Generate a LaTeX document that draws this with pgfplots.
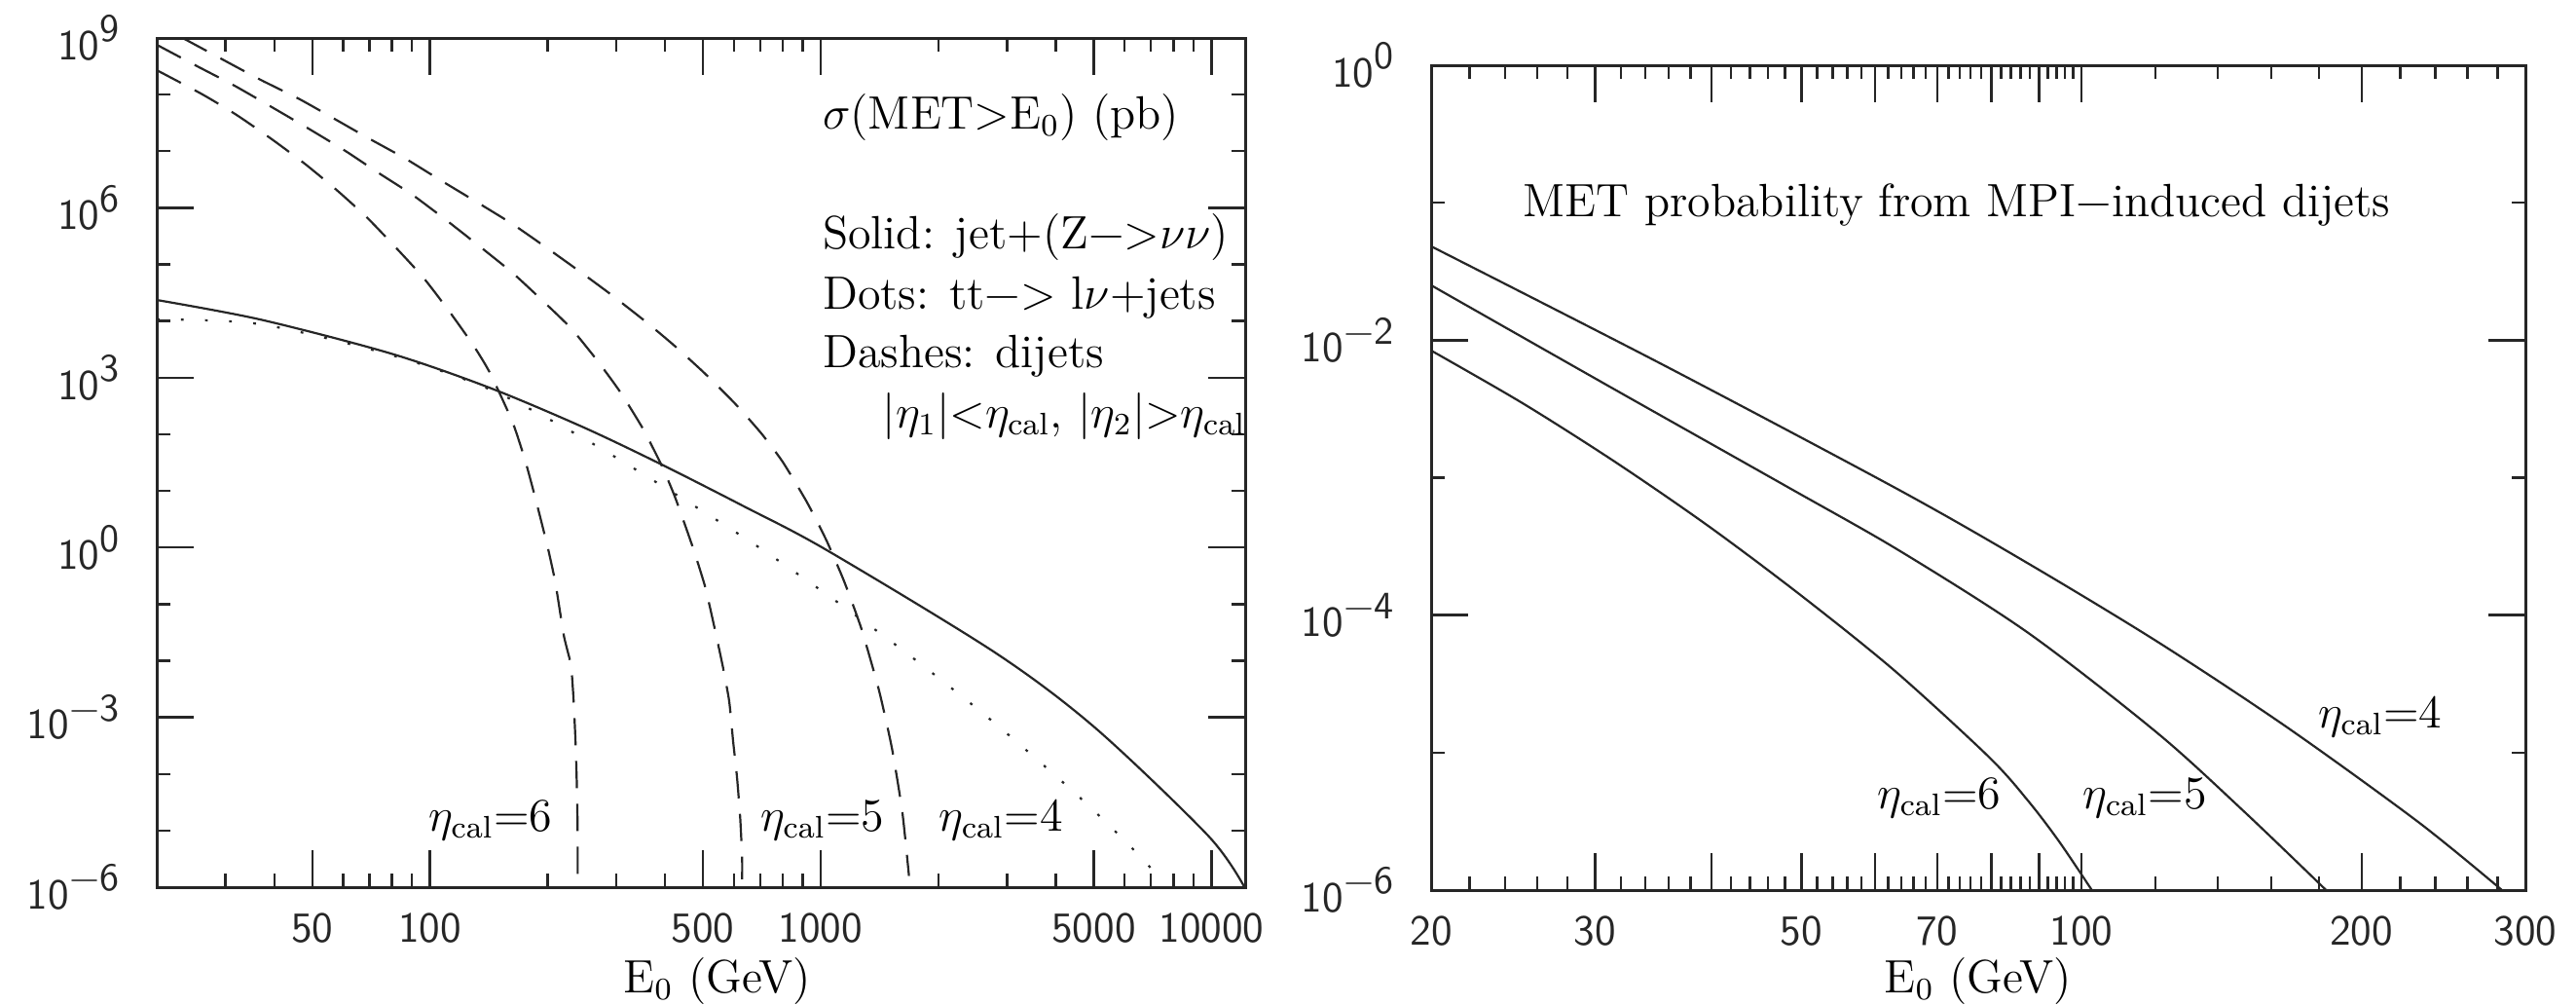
\documentclass[12pt,border=0pt]{standalone}
\usepackage{fontspec}
\usepackage{pgfplots}
\pgfplotsset{compat=1.18}

% tick label like 10^9 in sans
\newcommand{\tlab}[1]{10\raisebox{0.42em}{\fontsize{10}{10}\selectfont #1}}

\pgfplotsset{
  myax/.style={
    scale only axis,
    axis line style={line width=0.75pt, black!85},
    tick style={line width=0.6pt, black!85},
    major tick length=9.5pt, minor tick length=3.4pt,
    tick align=inside,
    tick label style={font=\sffamily\fontsize{11}{11}\selectfont, text=black!85},
    xticklabel style={yshift=-2.5pt},
    yticklabel style={xshift=-5.5pt},
    clip=false,
  },
  curve/.style={black!85, line width=0.55pt},
  dashes/.style={curve, dash pattern=on 7pt off 4pt},
  dots/.style={curve, dash pattern=on 0.7pt off 5.5pt},
}

\begin{document}
\begin{tikzpicture}
\path[use as bounding box] (0,0) rectangle (661.5pt,257.75pt);

% left: cross sections
\begin{loglogaxis}[myax,
  at={(40.25pt,30pt)}, anchor=south west,
  width=279.5pt, height=218pt,
  xmin=20, xmax=12200, ymin=1e-6, ymax=1e9,
  xtick={50,100,500,1000,5000,10000},
  xticklabels={50,100,500,1000,5000,10000},
  minor xtick={30,40,60,70,80,90,200,300,400,600,700,800,900,2000,3000,4000,6000,7000,8000,9000},
  ytick={1e-6,1e-3,1,1e3,1e6,1e9},
  yticklabels={\tlab{−6},\tlab{−3},\tlab{0},\tlab{3},\tlab{6},\tlab{9}},
  minor ytick={1e-5,1e-4,1e-2,1e-1,10,100,1e4,1e5,1e7,1e8},
]
% solid: jet + (Z -> nu nu)
\addplot[curve, smooth, tension=0.5] coordinates {
(20,2.355e4) (36.9,1.06e4) (79.6,2.66e3) (142.6,658) (247,133) (391,29.4)
(635,5.37) (1035,0.904) (2805,1.37e-2) (5058,6.40e-4) (9840,7.93e-6) (12150,1e-6)};
% dots: tt -> l nu + jets
\addplot[dots, smooth, tension=0.5] coordinates {
(20,1.07e4) (36.9,8.77e3) (79.6,2.51e3) (142.6,617) (247,85.1) (433.5,8.04)
(688.7,1.05) (1089,0.116) (1722,1.12e-2) (2742,8.71e-4) (4436,4.85e-5)
(6039,6.34e-6) (7261,1.65e-6)};
% dashes: dijets, eta_cal = 6
\addplot[dashes, smooth, tension=0.35] coordinates {
(20,2.70e8) (26.2,1.005e8) (32.0,4.38e7) (39.4,1.63e7) (47.8,6.04e6) (57.7,2.07e6)
(68.9,6.84e5) (81.3,2.08e5) (96.2,5.86e4) (112.2,1.47e4) (129.4,3.66e3) (142.6,1.20e3)
(162.6,167) (175.4,34.2) (186.6,7.01) (200,1.047) (209.4,0.242) (220.3,2.74e-2)
(229.6,8.34e-3) (233.3,1.93e-3) (236.0,3.37e-4) (237.7,6.64e-5) (238.8,1.16e-5) (238.9,1.58e-6)};
% eta_cal = 5
\addplot[dashes, smooth, tension=0.35] coordinates {
(20,7.59e8) (25.1,3.30e8) (31.6,1.44e8) (39.4,6.01e7) (48.9,2.51e7) (60.8,1.01e7)
(73.5,4.23e6) (90.2,1.70e6) (110.9,5.83e5) (136.1,1.92e5) (162.6,7.14e4) (192.3,2.45e4)
(229.6,7.48e3) (267.9,2.02e3) (307.6,547) (350.8,126) (390.8,29.2) (423.6,7.89)
(469.9,1.047) (505.8,0.207) (533.3,4.24e-2) (561.0,8.34e-3) (583.4,1.93e-3)
(597.0,3.80e-4) (610.9,8.77e-5) (622.3,1.73e-5) (629.5,3.40e-6) (629.6,1.38e-6)};
% eta_cal = 4
\addplot[dashes, smooth, tension=0.35] coordinates {
(23.3,1e9) (30.1,3.86e8) (36.9,1.82e8) (46.5,8.24e7) (57.0,3.73e7) (69.7,1.69e7)
(86.7,7.36e6) (106.4,3.08e6) (132.4,1.24e6) (162.6,5.18e5) (200,1.92e5) (244.3,7.14e4)
(291.7,2.89e4) (358.9,9.44e3) (423.6,3.61e3) (505.8,1.18e3) (603.9,348) (704.7,104)
(799.8,32.5) (922.6,6.30) (1035,1.33) (1148,0.254) (1271,3.70e-2) (1409,3.08e-3)
(1521,2.92e-4) (1618,2.14e-5) (1683,1.58e-6)};

\node[anchor=base west] at (rel axis cs:0.597,0.893) {$\sigma$(MET>E$_0$) (pb)};
\node[anchor=base west] at (rel axis cs:0.597,0.752) {Solid: jet+(Z−>$\nu\nu$)};
\node[anchor=base west] at (rel axis cs:0.597,0.681) {Dots: tt−> l$\nu$+jets};
\node[anchor=base west] at (rel axis cs:0.597,0.612) {Dashes: dijets};
\node[anchor=west] at (rel axis cs:0.652,0.555)
  {$|\eta_1|{<}\eta_{\mathrm{cal}}$, $|\eta_2|{>}\eta_{\mathrm{cal}}$};
\node[anchor=base west] at (rel axis cs:0.235,0.0665) {$\eta_{\mathrm{cal}}{=}6$};
\node[anchor=base west] at (rel axis cs:0.540,0.0665) {$\eta_{\mathrm{cal}}{=}5$};
\node[anchor=base west] at (rel axis cs:0.704,0.0665) {$\eta_{\mathrm{cal}}{=}4$};
\node[anchor=base, yshift=-27pt] at (rel axis cs:0.515,0) {E$_0$ (GeV)};
\end{loglogaxis}

% right: MET probability
\begin{loglogaxis}[myax,
  at={(367.5pt,29.25pt)}, anchor=south west,
  width=281pt, height=211.75pt,
  xmin=20, xmax=300, ymin=1e-6, ymax=1,
  xtick={20,30,40,50,60,70,80,90,100,200,300},
  xticklabels={20,30,,50,,70,,,100,200,300},
  minor xtick={22,24,26,28,32,34,36,38,42,44,46,48,52,54,56,58,62,64,66,68,72,74,76,78,
    82,84,86,88,92,94,96,98,120,140,160,180,220,240,260,280},
  ytick={1e-6,1e-4,1e-2,1},
  yticklabels={\tlab{−6},\tlab{−4},\tlab{−2},\tlab{0}},
  minor ytick={1e-5,1e-3,1e-1},
]
% eta_cal = 4
\addplot[curve, smooth, tension=0.5] coordinates {
(20,4.82e-2) (35.6,6.56e-3) (63.7,8.13e-4) (87.7,2.37e-4) (120.8,6.38e-5)
(166.3,1.53e-5) (230.1,3.13e-6) (283.1,1e-6)};
% eta_cal = 5
\addplot[curve, smooth, tension=0.5] coordinates {
(20,2.51e-2) (31.1,4.60e-3) (48.3,8.57e-4) (63.7,2.95e-4) (87.7,7.41e-5)
(120.8,1.38e-5) (149.6,3.72e-6) (183.2,1e-6)};
% eta_cal = 6
\addplot[curve, smooth, tension=0.5] coordinates {
(20,8.41e-3) (25.1,3.47e-3) (31.6,1.29e-3) (39.8,4.41e-4) (50.1,1.37e-4)
(63.1,3.90e-5) (79.6,9.25e-6) (87.7,4.43e-6) (94.6,2.26e-6) (102.6,1e-6)};

\node[anchor=base west] at (rel axis cs:0.0694,0.816) {MET probability from MPI−induced dijets};
\node[anchor=base west] at (rel axis cs:0.393,0.0992) {$\eta_{\mathrm{cal}}{=}6$};
\node[anchor=base west] at (rel axis cs:0.581,0.0992) {$\eta_{\mathrm{cal}}{=}5$};
\node[anchor=base west] at (rel axis cs:0.796,0.197) {$\eta_{\mathrm{cal}}{=}4$};
\node[anchor=base, yshift=-26.25pt] at (rel axis cs:0.5,0) {E$_0$ (GeV)};
\end{loglogaxis}
\end{tikzpicture}
\end{document}
